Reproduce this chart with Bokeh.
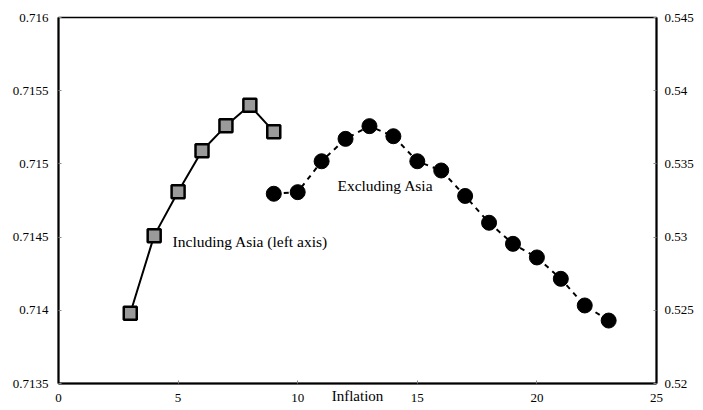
from bokeh.plotting import figure
from bokeh.models import Range1d, LinearAxis, FixedTicker, NumeralTickFormatter, Label, ColumnDataSource
from bokeh.embed import file_html
from bokeh.resources import INLINE

# Data
incl_x = [3, 4, 5, 6, 7, 8, 9]
incl_y = [0.71398, 0.71451, 0.71481, 0.71509, 0.71526, 0.71540, 0.71522]
excl_x = [9, 10, 11, 12, 13, 14, 15, 16, 17, 18, 19, 20, 21, 22, 23]
excl_y = [0.53296, 0.53307, 0.53518, 0.53671, 0.53758, 0.53689, 0.53518, 0.53455,
          0.53281, 0.53098, 0.52954, 0.52861, 0.52715, 0.52533, 0.52430]
x_ticks = [0, 5, 10, 15, 20, 25]
left_ticks = [0.7135, 0.714, 0.7145, 0.715, 0.7155, 0.716]
right_ticks = [0.52, 0.525, 0.53, 0.535, 0.54, 0.545]
label_incl = "Including Asia (left axis)"
label_excl = "Excluding Asia"
x_title = "Inflation"

FONT = "Liberation Serif"

p = figure(width=703, height=410, output_backend="svg", toolbar_location=None,
           x_range=Range1d(0, 25), y_range=Range1d(0.7135, 0.716),
           min_border_left=58, min_border_right=47, min_border_top=17, min_border_bottom=27)
p.extra_y_ranges = {"right": Range1d(0.52, 0.545)}
p.xgrid.visible = False
p.ygrid.visible = False
p.outline_line_color = "black"
p.outline_line_width = 1.5
p.background_fill_color = "white"
p.border_fill_color = "white"

ax_r = LinearAxis(y_range_name="right")
p.add_layout(ax_r, "right")

for ax in [p.xaxis[0], p.yaxis[0], ax_r]:
    ax.axis_line_color = "black"
    ax.axis_line_width = 2
    ax.major_tick_in = 3
    ax.major_tick_out = 0
    ax.major_tick_line_color = "#888888"
    ax.minor_tick_line_color = None
    ax.major_label_text_font = FONT
    ax.major_label_text_font_size = "13px"
    ax.major_label_text_color = "black"

xa = p.xaxis[0]
xa.ticker = FixedTicker(ticks=x_ticks)
xa.major_label_standoff = 10
xa.axis_label = x_title
xa.axis_label_text_font = FONT
xa.axis_label_text_font_style = "normal"
xa.axis_label_text_font_size = "15px"
xa.axis_label_text_color = "black"
xa.axis_label_standoff = -17

p.yaxis[0].ticker = FixedTicker(ticks=left_ticks)
p.yaxis[0].formatter = NumeralTickFormatter(format="0.[0000]")
p.yaxis[0].major_label_standoff = 10
ax_r.ticker = FixedTicker(ticks=right_ticks)
ax_r.formatter = NumeralTickFormatter(format="0.[000]")
ax_r.major_label_standoff = 8

src_i = ColumnDataSource(dict(x=incl_x, y=incl_y))
src_e = ColumnDataSource(dict(x=excl_x, y=excl_y))

p.line("x", "y", source=src_i, line_color="black", line_width=2)
p.scatter("x", "y", source=src_i, marker="square", size=13, fill_color="#9a9a9a",
          line_color="black", line_width=2.5)

p.line("x", "y", source=src_e, y_range_name="right", line_color="black", line_width=2,
       line_dash="5 5")
p.scatter("x", "y", source=src_e, y_range_name="right", marker="circle", size=15,
          fill_color="black", line_color="black")

p.add_layout(Label(x=4.77, y=0.71447, text=label_incl, text_font=FONT, text_font_size="15.5px",
                   text_baseline="middle", text_align="left", text_color="black"))
p.add_layout(Label(x=11.66, y=0.714852, text=label_excl, text_font=FONT, text_font_size="15.5px",
                   text_baseline="middle", text_align="left", text_color="black"))

open("out.html", "w").write(file_html(p, INLINE))
